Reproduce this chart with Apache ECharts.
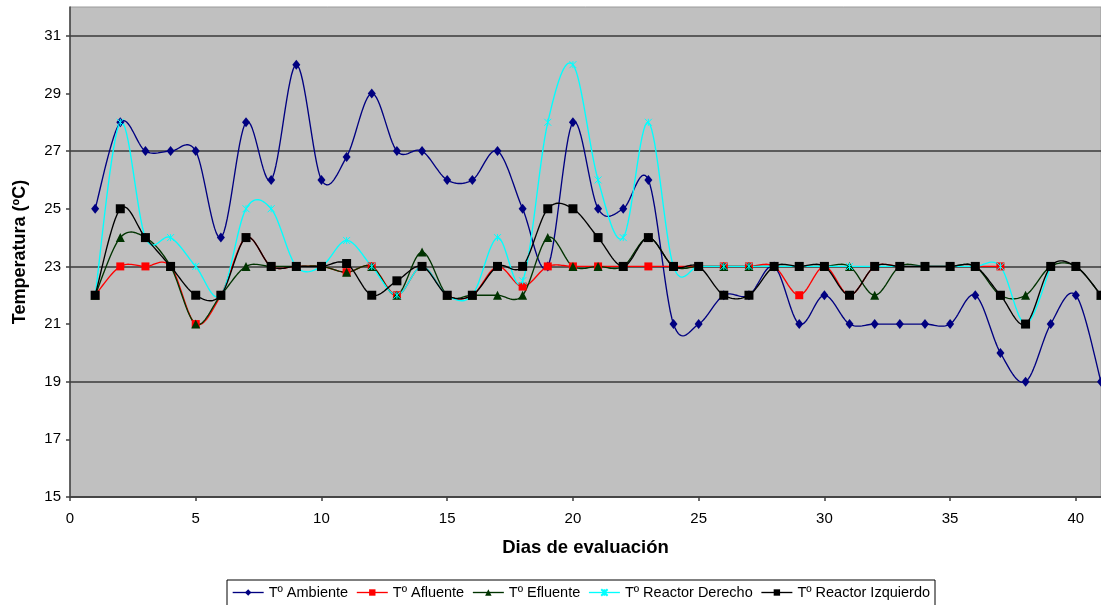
<!DOCTYPE html>
<html>
<head>
<meta charset="utf-8">
<script src="https://cdn.jsdelivr.net/npm/echarts@6/dist/echarts.min.js"></script>
<style>
  html, body { margin: 0; padding: 0; background: #ffffff; }
  #chart { width: 1101px; height: 605px; }
</style>
</head>
<body>
<div id="chart"></div>
<script>
// Daily temperatures (ºC) over the evaluation period
const days = Array.from({ length: 41 }, (_, i) => i + 1);

const ambiente = [25, 28, 27, 27, 27, 24, 28, 26, 30, 26, 26.8, 29, 27, 27, 26, 26, 27, 25, 23, 28,
  25, 25, 26, 21, 21, 22, 22, 23, 21, 22, 21, 21, 21, 21, 21, 22, 20, 19, 21, 22, 19];
const afluente = [22, 23, 23, 23, 21, 22, 24, 23, 23, 23, 22.8, 23, 22, 23, 22, 22, 23, 22.3, 23, 23,
  23, 23, 23, 23, 23, 23, 23, 23, 22, 23, 22, 23, 23, 23, 23, 23, 23];
const efluente = [22, 24, 24, 23, 21, 22, 23, 23, 23, 23, 22.8, 23, 22, 23.5, 22, 22, 22, 22, 24, 23,
  23, 23, 24, 23, 23, 23, 23, 23, 23, 23, 23, 22, 23, 23, 23, 23, 22, 22, 23, 23, 22];
const reactorDerecho = [22, 28, 24, 24, 23, 22, 25, 25, 23, 23, 23.9, 23, 22, 23, 22, 22, 24, 22.5, 28, 30,
  26, 24, 28, 23, 23, 23, 23, 23, 23, 23, 23, 23, 23, 23, 23, 23, 23, 21, 23];
const reactorIzquierdo = [22, 25, 24, 23, 22, 22, 24, 23, 23, 23, 23.1, 22, 22.5, 23, 22, 22, 23, 23, 25, 25,
  24, 23, 24, 23, 23, 22, 22, 23, 23, 23, 22, 23, 23, 23, 23, 23, 22, 21, 23, 23, 22];

const yTickValues = [15, 17, 19, 21, 23, 25, 27, 29, 31];
const xTickValues = [0, 5, 10, 15, 20, 25, 30, 35, 40];

const pairs = (vals) => vals.map((v, i) => [days[i], v]);

const starSymbol = 'path://M0,0L10,10M10,0L0,10M5,0L5,10';
const LINE_W = 1.35;

// Smoothed connecting curve (Catmull-Rom style Bezier through every point,
// allowed to overshoot between points), positioned through the cartesian axes.
function curveSeries(vals, color) {
  const TENSION = 1 / 6;
  const STEPS = 16;
  return {
    type: 'custom',
    coordinateSystem: 'cartesian2d',
    silent: true,
    clip: true,
    data: [[days[0], vals[0]]],
    renderItem: (params, api) => {
      const pts = vals.map((v, i) => api.coord([days[i], v]));
      const out = [pts[0]];
      for (let i = 0; i < pts.length - 1; i++) {
        const p0 = pts[Math.max(i - 1, 0)];
        const p1 = pts[i];
        const p2 = pts[i + 1];
        const p3 = pts[Math.min(i + 2, pts.length - 1)];
        const c1 = [p1[0] + (p2[0] - p0[0]) * TENSION, p1[1] + (p2[1] - p0[1]) * TENSION];
        const c2 = [p2[0] - (p3[0] - p1[0]) * TENSION, p2[1] - (p3[1] - p1[1]) * TENSION];
        for (let s = 1; s <= STEPS; s++) {
          const t = s / STEPS, u = 1 - t;
          const a = u * u * u, b = 3 * u * u * t, c = 3 * u * t * t, d = t * t * t;
          out.push([
            a * p1[0] + b * c1[0] + c * c2[0] + d * p2[0],
            a * p1[1] + b * c1[1] + c * c2[1] + d * p2[1]
          ]);
        }
      }
      return {
        type: 'polyline',
        shape: { points: out },
        style: { stroke: color, lineWidth: LINE_W, fill: null, lineJoin: 'round' }
      };
    }
  };
}

// Markers for each series (the curve is drawn by curveSeries just before it)
function markerSeries(name, vals, color, symbol, size, itemStyle) {
  return {
    name: name,
    type: 'line',
    data: pairs(vals),
    symbol: symbol,
    symbolSize: size,
    showAllSymbol: true,
    lineStyle: { color: color, width: LINE_W, opacity: 0 },
    itemStyle: itemStyle || { color: color },
    emphasis: { disabled: true }
  };
}

const seriesDefs = [
  { name: 'Tº Ambiente', vals: ambiente, color: '#000080', symbol: 'diamond', size: [8, 10] },
  { name: 'Tº Afluente', vals: afluente, color: '#ff0000', symbol: 'rect', size: 8 },
  { name: 'Tº Efluente', vals: efluente, color: '#003300', symbol: 'triangle', size: 9 },
  { name: 'Tº Reactor Derecho', vals: reactorDerecho, color: '#00ffff', symbol: starSymbol, size: 7,
    itemStyle: { color: 'rgba(0,0,0,0)', borderColor: '#00ffff', borderWidth: 1 } },
  { name: 'Tº Reactor Izquierdo', vals: reactorIzquierdo, color: '#000000', symbol: 'rect', size: 9 }
];

const series = [];
seriesDefs.forEach((d) => {
  series.push(curveSeries(d.vals, d.color));
  series.push(markerSeries(d.name, d.vals, d.color, d.symbol, d.size, d.itemStyle));
});

const chart = echarts.init(document.getElementById('chart'), null, { renderer: 'canvas' });

chart.setOption({
  animation: false,
  backgroundColor: '#ffffff',
  textStyle: { fontFamily: 'Liberation Sans, Arial, sans-serif' },
  grid: {
    left: 70, top: 7, right: 0, bottom: 108,
    show: true,
    backgroundColor: '#c0c0c0',
    borderColor: '#9a9a9a',
    borderWidth: 1
  },
  legend: {
    left: 227, top: 580,
    itemWidth: 31, itemHeight: 8, itemGap: 8,
    padding: [5, 5, 6, 5],
    borderColor: '#000000', borderWidth: 1,
    backgroundColor: '#ffffff',
    textStyle: { color: '#000000', fontSize: 14.5, fontFamily: 'Liberation Sans, Arial, sans-serif' },
    data: seriesDefs.map((d) => ({
      name: d.name,
      lineStyle: { color: d.color, width: LINE_W, opacity: 1 }
    }))
  },
  xAxis: {
    type: 'value',
    min: 0, max: 41, interval: 1,
    name: 'Dias de evaluación',
    nameLocation: 'middle',
    nameGap: 41,
    nameTextStyle: { color: '#000000', fontSize: 18.5, fontWeight: 'bold' },
    axisLine: { show: true, lineStyle: { color: '#404040', width: 1.5 } },
    axisTick: {
      show: true, length: 4, inside: false,
      customValues: xTickValues,
      lineStyle: { color: '#404040', width: 1.5 }
    },
    axisLabel: {
      color: '#000000', fontSize: 15, margin: 14,
      customValues: xTickValues,
      formatter: (v) => (xTickValues.indexOf(v) >= 0 ? String(v) : '')
    },
    splitLine: { show: false }
  },
  yAxis: {
    type: 'value',
    min: 15, max: 32, interval: 1,
    name: 'Temperatura (ºC)',
    nameLocation: 'middle',
    nameGap: 41,
    nameTextStyle: { color: '#000000', fontSize: 18, fontWeight: 'bold' },
    axisLine: { show: true, lineStyle: { color: '#404040', width: 1.5 } },
    axisTick: {
      show: true, length: 4, inside: false,
      customValues: yTickValues,
      lineStyle: { color: '#404040', width: 1.5 }
    },
    axisLabel: {
      color: '#000000', fontSize: 15, margin: 9,
      customValues: yTickValues,
      formatter: (v) => (yTickValues.indexOf(v) >= 0 ? String(v) : '')
    },
    splitLine: {
      show: true,
      lineStyle: { color: ['#3a3a3a', 'rgba(0,0,0,0)'], width: 1.5 }
    }
  },
  series: series
});
</script>
</body>
</html>
